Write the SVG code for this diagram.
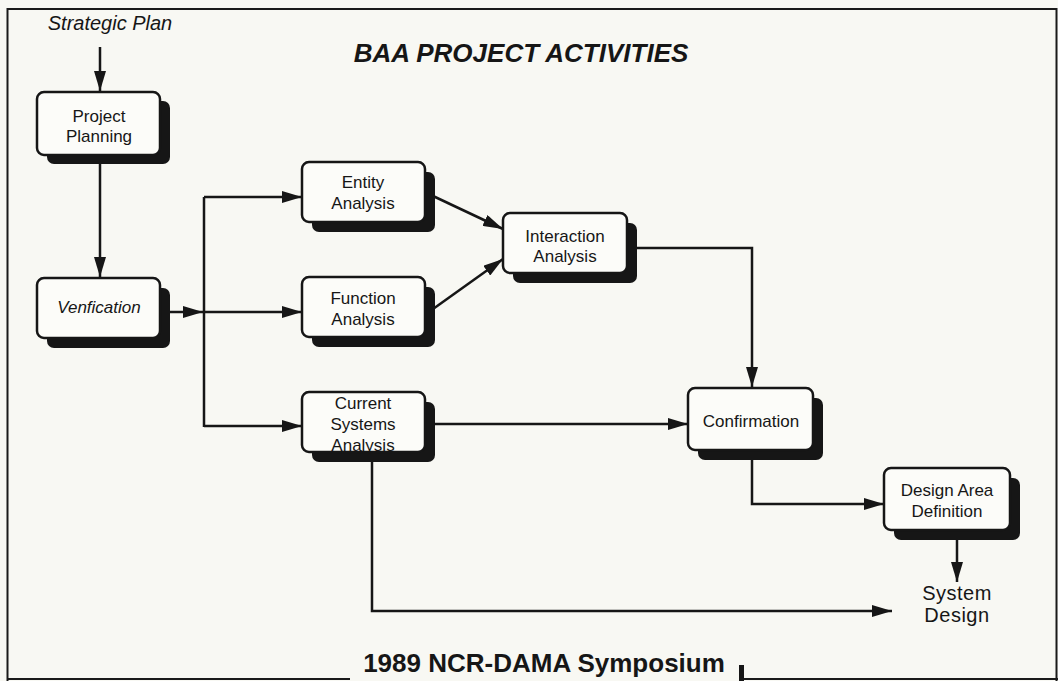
<svg xmlns="http://www.w3.org/2000/svg" width="1058" height="681" viewBox="0 0 1058 681">
  <style>
    .bg{fill:#f8f8f3}
    .frame{fill:none;stroke:#1a1a1a;stroke-width:2}
    .shadow{fill:#161616}
    .box{fill:#fcfcf9;stroke:#161616;stroke-width:2.5}
    .lbl{font-family:"Liberation Sans",Arial,Helvetica,sans-serif;font-size:17px;fill:#161616;text-anchor:middle}
    .it{font-style:italic}
    .title{font-family:"Liberation Sans",Arial,Helvetica,sans-serif;font-weight:bold;font-size:26px;fill:#161616;text-anchor:middle}
    #connectors path{fill:none;stroke:#161616;stroke-width:2.5;marker-end:url(#arrow)}
    #connectors path.plain{marker-end:none}
  </style>
  <defs>
    <marker id="arrow" markerUnits="userSpaceOnUse" markerWidth="20" markerHeight="12" refX="20" refY="6" orient="auto">
      <path d="M0,0 L20,6 L0,12 z" fill="#161616"/>
    </marker>
  </defs>

  <!-- page and frame -->
  <rect class="bg" x="0" y="0" width="1058" height="681"/>
  <g id="frame" class="frame">
    <path d="M7.5,681 V9 H1056.5 V681"/>
    <path d="M7,679 H350"/>
    <path d="M741,679 H1058"/>
    <rect x="739" y="665" width="5" height="16" fill="#161616" stroke="none"/>
  </g>

  <!-- titles -->
  <text class="title it" x="521" y="62">BAA PROJECT ACTIVITIES</text>
  <text class="title" x="544" y="672">1989 NCR-DAMA Symposium</text>

  <!-- nodes -->
  <g id="strategic-plan">
    <text class="lbl it" x="110" y="30" font-size="20" style="font-size:20px">Strategic Plan</text>
  </g>
  <g id="project-planning">
    <rect class="shadow" x="47" y="101" width="123" height="63" rx="7"/>
    <rect class="box" x="37" y="92" width="123" height="63" rx="7"/>
    <text class="lbl" x="99" y="122">Project</text>
    <text class="lbl" x="99" y="142">Planning</text>
  </g>
  <g id="verification">
    <rect class="shadow" x="47" y="288" width="123" height="60" rx="7"/>
    <rect class="box" x="37" y="278" width="123" height="60" rx="7"/>
    <text class="lbl it" x="99" y="313">Venfication</text>
  </g>
  <g id="entity-analysis">
    <rect class="shadow" x="312" y="172" width="123" height="60" rx="7"/>
    <rect class="box" x="302" y="162" width="123" height="60" rx="7"/>
    <text class="lbl" x="363" y="188">Entity</text>
    <text class="lbl" x="363" y="209">Analysis</text>
  </g>
  <g id="function-analysis">
    <rect class="shadow" x="312" y="287" width="123" height="60" rx="7"/>
    <rect class="box" x="302" y="277" width="123" height="60" rx="7"/>
    <text class="lbl" x="363" y="304">Function</text>
    <text class="lbl" x="363" y="325">Analysis</text>
  </g>
  <g id="current-systems-analysis">
    <rect class="shadow" x="312" y="402" width="123" height="60" rx="7"/>
    <rect class="box" x="302" y="392" width="123" height="60" rx="7"/>
    <text class="lbl" x="363" y="409">Current</text>
    <text class="lbl" x="363" y="430">Systems</text>
    <text class="lbl" x="363" y="451">Analysis</text>
  </g>
  <g id="interaction-analysis">
    <rect class="shadow" x="513" y="223" width="124" height="60" rx="7"/>
    <rect class="box" x="503" y="213" width="124" height="60" rx="7"/>
    <text class="lbl" x="565" y="242">Interaction</text>
    <text class="lbl" x="565" y="262">Analysis</text>
  </g>
  <g id="confirmation">
    <rect class="shadow" x="698" y="398" width="125" height="62" rx="7"/>
    <rect class="box" x="688" y="388" width="125" height="62" rx="7"/>
    <text class="lbl" x="751" y="427">Confirmation</text>
  </g>
  <g id="design-area-definition">
    <rect class="shadow" x="894" y="478" width="126" height="62" rx="7"/>
    <rect class="box" x="884" y="468" width="126" height="62" rx="7"/>
    <text class="lbl" x="947" y="496">Design Area</text>
    <text class="lbl" x="947" y="517">Definition</text>
  </g>
  <g id="system-design">
    <text class="lbl" x="957" y="600" style="font-size:20px;letter-spacing:0.5px">System</text>
    <text class="lbl" x="957" y="622" style="font-size:20px;letter-spacing:0.5px">Design</text>
  </g>

  <!-- connectors -->
  <g id="connectors">
    <path d="M100,47 V91"/>
    <path d="M100,164 V277"/>
    <path d="M170,312 H203"/>
    <path class="plain" d="M204,197 V427"/>
    <path d="M204,197 H302"/>
    <path d="M204,312 H302"/>
    <path d="M204,426 H302"/>
    <path d="M433,196 L503,229"/>
    <path d="M433,309 L503,259"/>
    <path d="M637,248 H752 V387"/>
    <path d="M435,424 H688"/>
    <path d="M752,460 V504 H884"/>
    <path d="M957,540 V582"/>
    <path d="M372,462 V611 H892"/>
  </g>
</svg>
